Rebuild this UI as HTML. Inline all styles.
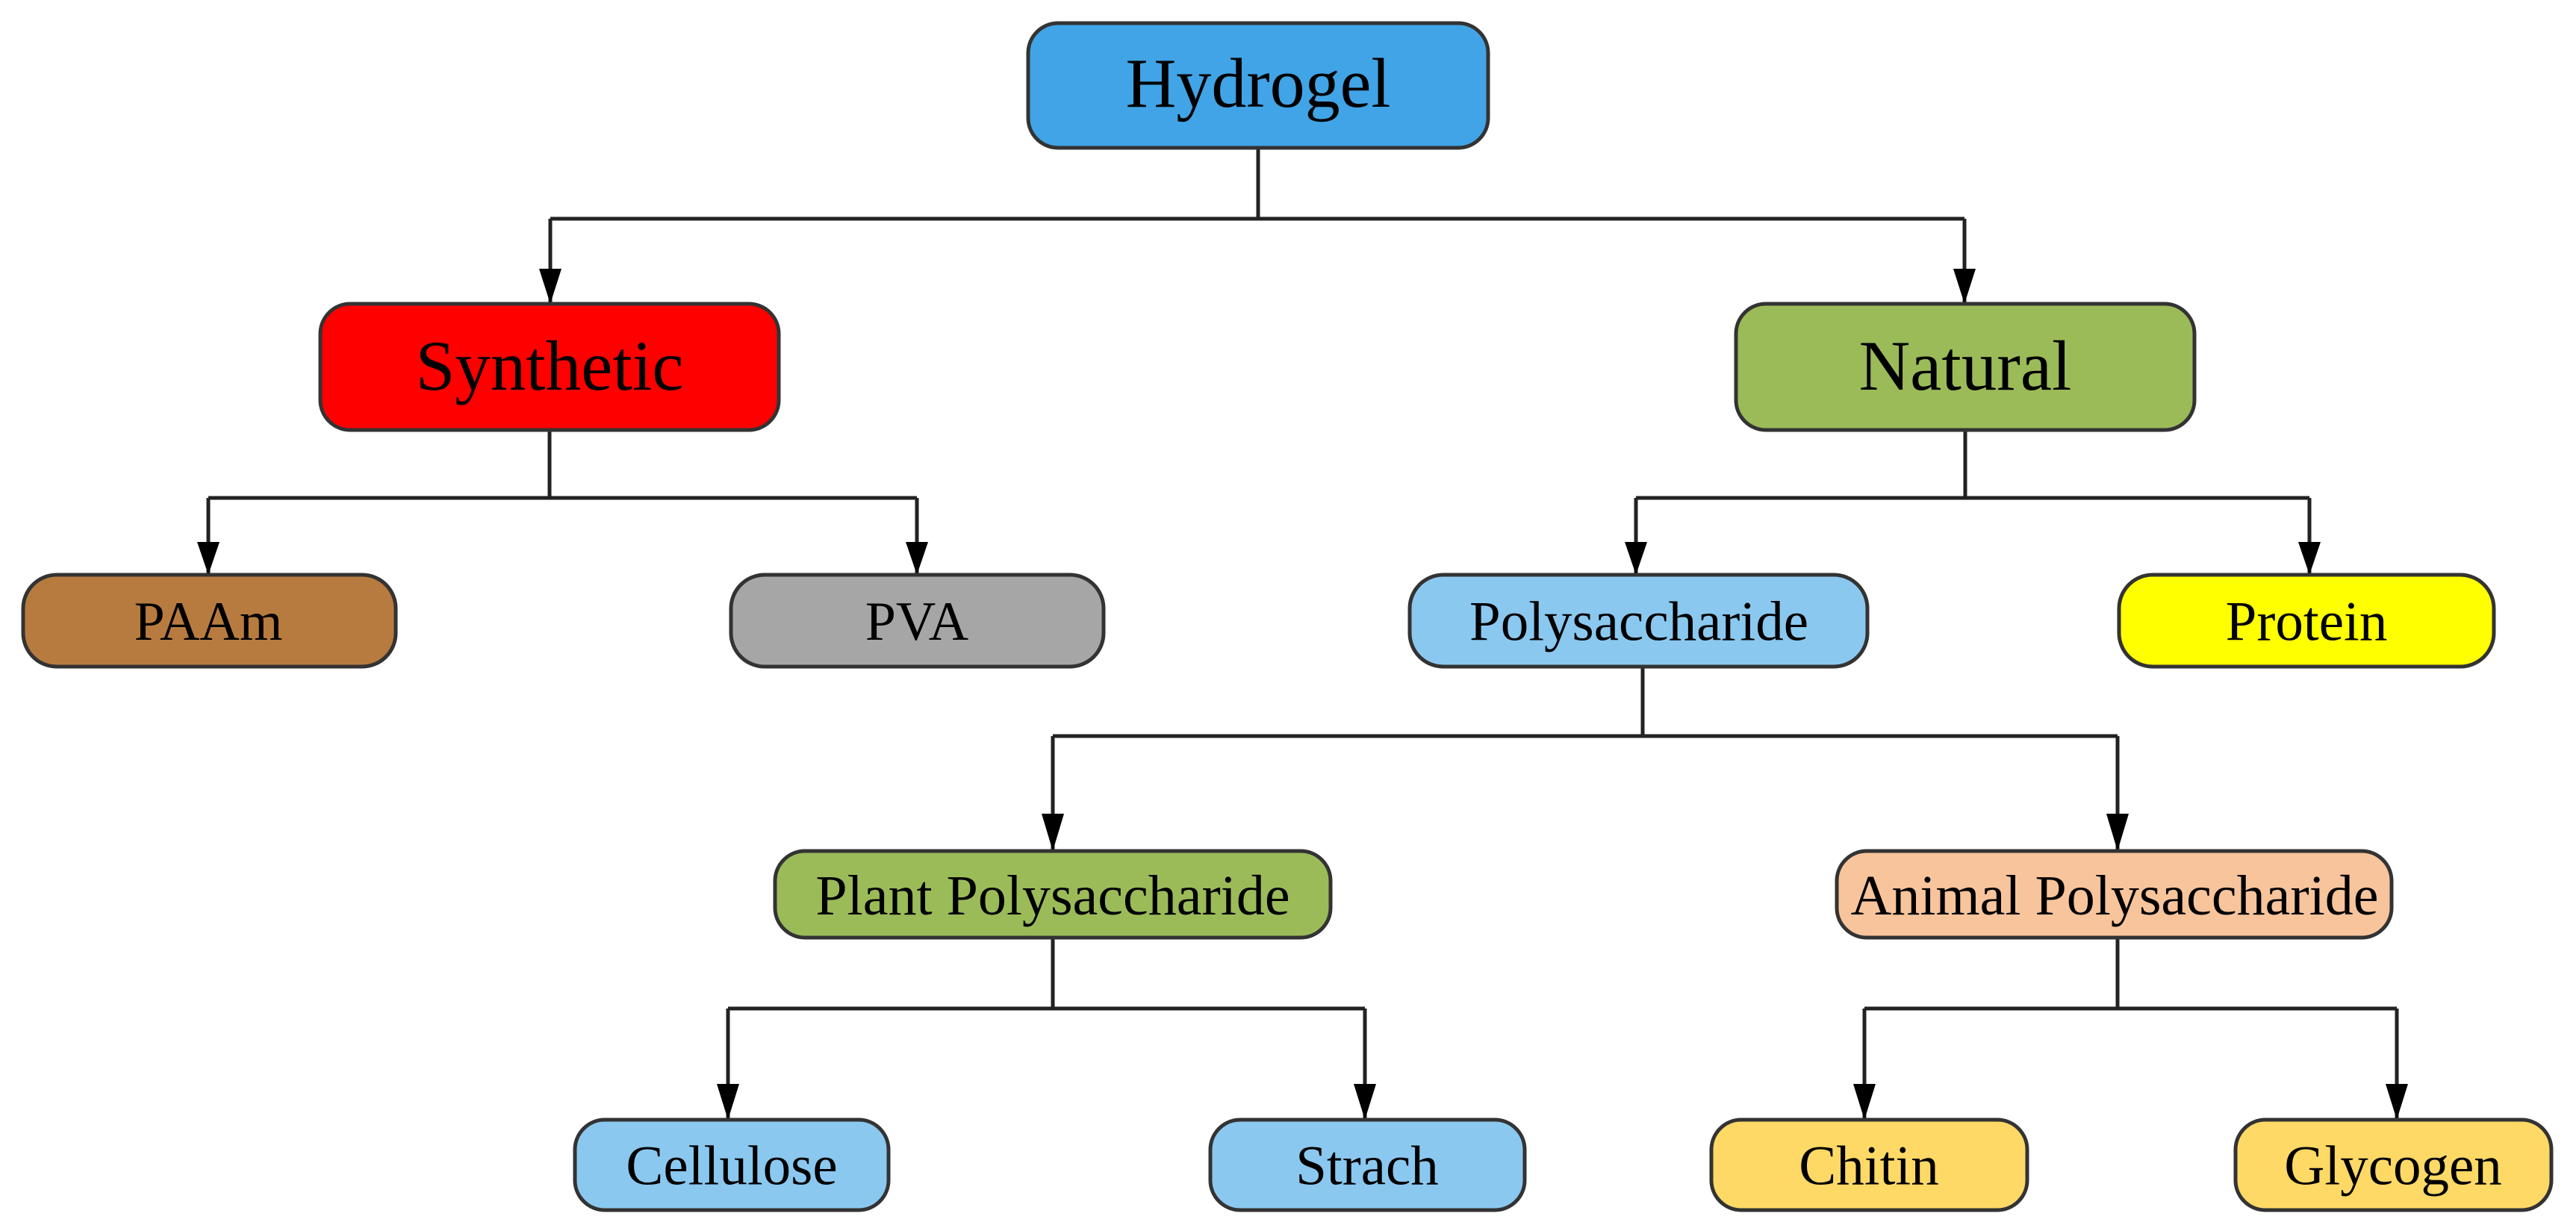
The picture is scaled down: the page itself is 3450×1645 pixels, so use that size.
<!DOCTYPE html>
<html><head><meta charset="utf-8"><style>
html,body{margin:0;padding:0;background:#fff}
svg{display:block}
text{font-family:"Liberation Serif",serif;text-anchor:middle;dominant-baseline:central;fill:#000}
</style></head><body>
<svg width="3450" height="1645" viewBox="0 0 3450 1645" xmlns="http://www.w3.org/2000/svg">
<g stroke="#222" stroke-width="5" fill="none">
<path d="M1685 198 V293 M737 293 H2631"/>
<path d="M737 293 V407 M2631 293 V407"/>
<path d="M736 576 V667 M279 667 H1228 M279 667 V770 M1228 667 V770"/>
<path d="M2632 576 V667 M2191 667 H3093 M2191 667 V770 M3093 667 V770"/>
<path d="M2200 893 V986 M1410 986 H2836 M1410 986 V1140 M2836 986 V1140"/>
<path d="M1410 1256 V1351 M975 1351 H1828 M975 1351 V1500 M1828 1351 V1500"/>
<path d="M2836 1256 V1351 M2497 1351 H3210 M2497 1351 V1500 M3210 1351 V1500"/>
</g>
<g fill="#000">
<path d="M722 360 L752 360 L737 407 Z"/><path d="M2616 360 L2646 360 L2631 407 Z"/>
<path d="M264 726 L294 726 L279 770 Z"/><path d="M1213 726 L1243 726 L1228 770 Z"/>
<path d="M2176 726 L2206 726 L2191 770 Z"/><path d="M3078 726 L3108 726 L3093 770 Z"/>
<path d="M1395 1090 L1425 1090 L1410 1140 Z"/><path d="M2821 1090 L2851 1090 L2836 1140 Z"/>
<path d="M960 1452 L990 1452 L975 1500 Z"/><path d="M1813 1452 L1843 1452 L1828 1500 Z"/>
<path d="M2482 1452 L2512 1452 L2497 1500 Z"/><path d="M3195 1452 L3225 1452 L3210 1500 Z"/>
</g>
<g stroke="#333" stroke-width="5">
<rect x="1377" y="31" width="616" height="167" rx="40" fill="#41a4e6"/>
<rect x="429" y="407" width="614" height="169" rx="40" fill="#ff0000"/>
<rect x="2325" y="407" width="614" height="169" rx="40" fill="#9bbb59"/>
<rect x="31" y="770" width="499" height="123" rx="45" fill="#b87b3f"/>
<rect x="979" y="770" width="499" height="123" rx="45" fill="#a6a6a6"/>
<rect x="1888" y="770" width="613" height="123" rx="45" fill="#8bc8f0"/>
<rect x="2838" y="770" width="502" height="123" rx="45" fill="#ffff00"/>
<rect x="1038" y="1140" width="744" height="116" rx="40" fill="#9bbb59"/>
<rect x="2460" y="1140" width="743" height="116" rx="40" fill="#f8c49c"/>
<rect x="770" y="1500" width="420" height="121" rx="40" fill="#8bc8f0"/>
<rect x="1621" y="1500" width="421" height="121" rx="40" fill="#8bc8f0"/>
<rect x="2292" y="1500" width="423" height="121" rx="40" fill="#ffd966"/>
<rect x="2994" y="1500" width="423" height="121" rx="40" fill="#ffd966"/>
</g>
<text x="1685" y="112" font-size="94">Hydrogel</text>
<text x="736" y="490" font-size="95">Synthetic</text>
<text x="2632" y="490" font-size="95">Natural</text>
<text x="279" y="833" font-size="74">PAAm</text>
<text x="1228" y="833" font-size="74">PVA</text>
<text x="2195" y="833" font-size="75">Polysaccharide</text>
<text x="3089" y="833" font-size="75">Protein</text>
<text x="1410" y="1200" font-size="76">Plant Polysaccharide</text>
<text x="2832" y="1200" font-size="76">Animal Polysaccharide</text>
<text x="980" y="1562" font-size="75">Cellulose</text>
<text x="1831" y="1562" font-size="75">Strach</text>
<text x="2503" y="1562" font-size="75">Chitin</text>
<text x="3205" y="1562" font-size="75">Glycogen</text>
</svg>
</body></html>
